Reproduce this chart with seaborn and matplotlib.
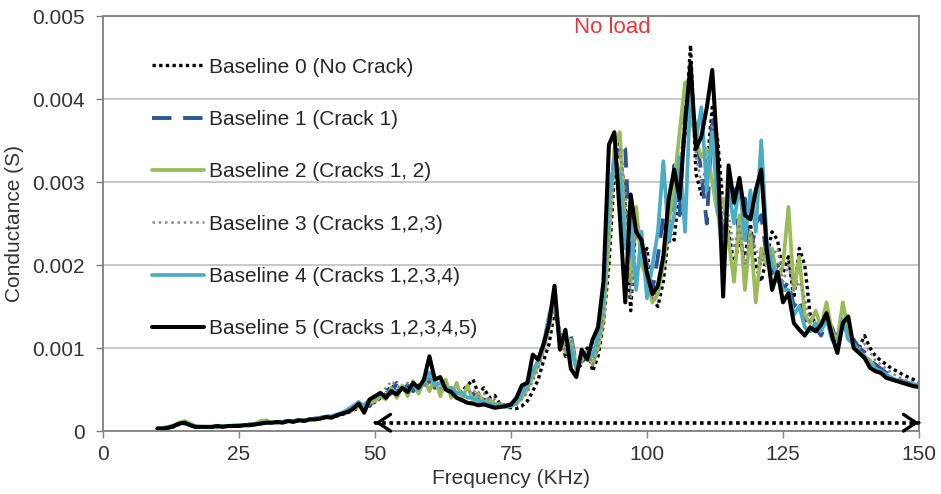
import numpy as np
import pandas as pd
import matplotlib
matplotlib.use('Agg')
import matplotlib.pyplot as plt
import seaborn as sns

# Frequency grid (kHz) and conductance readings (mS) for each baseline
freq = np.arange(10, 151)

baseline0 = [0.02, 0.03, 0.04, 0.05, 0.08, 0.09, 0.07, 0.05, 0.04, 0.05,
             0.05, 0.05, 0.06, 0.06, 0.06, 0.07, 0.07, 0.08, 0.08, 0.09,
             0.11, 0.10, 0.10, 0.11, 0.12, 0.12, 0.12, 0.13, 0.14, 0.15,
             0.15, 0.16, 0.17, 0.18, 0.20, 0.22, 0.25, 0.28, 0.30, 0.32,
             0.35, 0.40, 0.45, 0.55, 0.48, 0.52, 0.45, 0.55, 0.48, 0.56,
             0.70, 0.58, 0.52, 0.48, 0.50, 0.46, 0.48, 0.55, 0.62, 0.45,
             0.52, 0.40, 0.43, 0.32, 0.30, 0.28, 0.27, 0.30, 0.36, 0.48,
             0.62, 0.85, 1.05, 1.45, 1.20, 0.90, 1.10, 0.75, 0.80, 1.00,
             0.72, 0.90, 1.30, 2.00, 3.10, 3.50, 2.70, 1.45, 2.60, 2.10,
             2.20, 1.60, 1.50, 1.80, 2.40, 2.30, 3.00, 3.60, 4.65, 3.10,
             2.85, 3.20, 3.90, 3.50, 2.70, 2.40, 2.00, 2.30, 2.10, 2.50,
             2.00, 1.80, 2.10, 2.40, 2.30, 1.90, 2.10, 1.60, 2.20, 2.00,
             1.40, 1.30, 1.25, 1.35, 1.20, 1.15, 1.30, 1.20, 1.05, 1.00,
             1.15, 1.00, 0.90, 0.85, 0.80, 0.75, 0.72, 0.68, 0.65, 0.62,
             0.60]

baseline1 = [0.03, 0.03, 0.04, 0.06, 0.09, 0.11, 0.08, 0.05, 0.05, 0.05,
             0.05, 0.06, 0.06, 0.06, 0.06, 0.07, 0.07, 0.08, 0.08, 0.10,
             0.11, 0.10, 0.11, 0.11, 0.12, 0.12, 0.13, 0.13, 0.14, 0.15,
             0.16, 0.17, 0.18, 0.19, 0.22, 0.25, 0.30, 0.28, 0.35, 0.30,
             0.40, 0.38, 0.50, 0.45, 0.58, 0.50, 0.55, 0.48, 0.55, 0.50,
             0.62, 0.52, 0.55, 0.48, 0.52, 0.45, 0.48, 0.42, 0.45, 0.40,
             0.38, 0.35, 0.34, 0.32, 0.31, 0.32, 0.36, 0.45, 0.55, 0.70,
             0.85, 1.05, 1.35, 1.55, 1.10, 1.00, 1.15, 0.80, 0.85, 0.95,
             0.85, 1.10, 1.50, 2.60, 3.30, 3.45, 3.40, 2.00, 2.50, 2.30,
             2.00, 1.70, 2.10, 2.60, 2.20, 3.20, 2.60, 3.90, 4.10, 3.60,
             3.10, 2.50, 3.80, 3.00, 2.30, 2.70, 3.00, 2.30, 2.80, 2.10,
             2.50, 2.60, 2.10, 1.90, 2.00, 1.70, 1.80, 1.50, 1.60, 1.35,
             1.20, 1.25, 1.15, 1.30, 1.25, 1.05, 1.30, 1.15, 1.10, 1.00,
             0.95, 0.85, 0.80, 0.75, 0.70, 0.65, 0.62, 0.60, 0.58, 0.56,
             0.55]

baseline2 = [0.03, 0.04, 0.05, 0.07, 0.10, 0.12, 0.09, 0.06, 0.05, 0.05,
             0.05, 0.06, 0.06, 0.06, 0.07, 0.07, 0.07, 0.08, 0.09, 0.12,
             0.13, 0.10, 0.10, 0.11, 0.12, 0.12, 0.13, 0.13, 0.14, 0.15,
             0.15, 0.16, 0.17, 0.19, 0.21, 0.23, 0.26, 0.30, 0.28, 0.34,
             0.36, 0.42, 0.38, 0.52, 0.40, 0.55, 0.42, 0.60, 0.45, 0.62,
             0.48, 0.65, 0.42, 0.62, 0.40, 0.58, 0.38, 0.55, 0.36, 0.45,
             0.34, 0.38, 0.33, 0.32, 0.30, 0.30, 0.33, 0.40, 0.50, 0.65,
             0.80, 1.00, 1.25, 1.60, 1.15, 0.95, 1.10, 0.80, 0.85, 0.95,
             0.80, 1.00, 1.35, 2.30, 3.40, 3.60, 2.40, 1.80, 2.70, 2.00,
             1.85, 1.55, 1.65, 2.00, 2.50, 3.00, 3.60, 4.20, 3.80, 3.50,
             3.30, 3.40, 3.00, 2.60, 2.80, 2.30, 1.80, 2.60, 1.70, 2.40,
             1.55, 2.20, 2.00, 2.20, 1.80, 2.00, 2.70, 1.70, 2.10, 1.40,
             1.30, 1.45, 1.25, 1.55, 1.20, 1.10, 1.55, 1.20, 1.00, 0.95,
             0.90, 0.85, 0.75, 0.70, 0.65, 0.62, 0.60, 0.58, 0.56, 0.55,
             0.54]

baseline3 = [0.03, 0.03, 0.04, 0.06, 0.09, 0.11, 0.08, 0.05, 0.05, 0.05,
             0.05, 0.05, 0.06, 0.06, 0.06, 0.07, 0.07, 0.08, 0.08, 0.10,
             0.11, 0.10, 0.11, 0.11, 0.12, 0.12, 0.13, 0.13, 0.14, 0.15,
             0.15, 0.16, 0.17, 0.19, 0.21, 0.24, 0.27, 0.30, 0.33, 0.36,
             0.40, 0.45, 0.52, 0.60, 0.55, 0.50, 0.58, 0.50, 0.55, 0.52,
             0.65, 0.55, 0.52, 0.50, 0.48, 0.45, 0.44, 0.46, 0.50, 0.42,
             0.45, 0.38, 0.38, 0.33, 0.30, 0.30, 0.32, 0.38, 0.46, 0.60,
             0.75, 0.95, 1.20, 1.50, 1.15, 0.95, 1.10, 0.78, 0.82, 0.98,
             0.80, 1.00, 1.40, 2.40, 3.20, 3.40, 2.90, 1.60, 2.50, 2.20,
             2.10, 1.60, 1.70, 2.20, 2.50, 2.60, 3.20, 3.80, 4.40, 3.30,
             3.00, 3.10, 3.70, 3.20, 2.50, 2.60, 2.20, 2.50, 2.00, 2.40,
             2.20, 2.00, 2.30, 2.10, 2.20, 1.80, 2.00, 1.70, 1.80, 1.60,
             1.30, 1.30, 1.20, 1.40, 1.20, 1.10, 1.35, 1.20, 1.05, 1.00,
             1.05, 0.95, 0.85, 0.80, 0.75, 0.70, 0.66, 0.63, 0.60, 0.58,
             0.57]

baseline4 = [0.03, 0.03, 0.04, 0.06, 0.09, 0.10, 0.08, 0.05, 0.05, 0.05,
             0.05, 0.06, 0.06, 0.06, 0.06, 0.07, 0.07, 0.08, 0.08, 0.09,
             0.10, 0.10, 0.11, 0.11, 0.12, 0.12, 0.13, 0.13, 0.14, 0.15,
             0.16, 0.17, 0.18, 0.20, 0.22, 0.26, 0.30, 0.35, 0.30, 0.38,
             0.40, 0.45, 0.42, 0.50, 0.46, 0.52, 0.48, 0.55, 0.50, 0.58,
             0.70, 0.55, 0.58, 0.50, 0.52, 0.45, 0.46, 0.40, 0.40, 0.36,
             0.35, 0.33, 0.31, 0.30, 0.29, 0.30, 0.35, 0.45, 0.55, 0.72,
             0.85, 1.05, 1.40, 1.60, 1.05, 1.10, 1.00, 0.75, 0.90, 0.95,
             0.90, 1.15, 1.60, 2.80, 3.30, 3.10, 2.20, 2.60, 1.70, 2.40,
             1.60, 2.00, 2.40, 3.25, 2.30, 2.60, 3.30, 2.40, 4.15, 3.50,
             3.90, 2.90, 3.60, 2.70, 2.00, 2.90, 2.50, 3.00, 2.30, 2.90,
             2.40, 3.50, 2.30, 2.00, 1.90, 1.70, 1.70, 1.40, 1.50, 1.25,
             1.20, 1.30, 1.20, 1.35, 1.10, 1.00, 1.35, 1.10, 1.05, 0.95,
             0.90, 0.80, 0.75, 0.72, 0.68, 0.64, 0.61, 0.59, 0.57, 0.56,
             0.55]

baseline5 = [0.03, 0.03, 0.04, 0.06, 0.09, 0.10, 0.07, 0.05, 0.05, 0.05,
             0.05, 0.06, 0.05, 0.06, 0.06, 0.06, 0.07, 0.07, 0.08, 0.09,
             0.10, 0.10, 0.11, 0.10, 0.12, 0.11, 0.13, 0.12, 0.14, 0.14,
             0.15, 0.17, 0.16, 0.19, 0.21, 0.23, 0.27, 0.33, 0.22, 0.38,
             0.42, 0.46, 0.40, 0.48, 0.44, 0.52, 0.47, 0.58, 0.52, 0.62,
             0.90, 0.62, 0.65, 0.50, 0.47, 0.40, 0.37, 0.34, 0.33, 0.31,
             0.32, 0.30, 0.28, 0.29, 0.30, 0.32, 0.40, 0.55, 0.58, 0.92,
             0.86, 1.05, 1.30, 1.75, 0.98, 1.22, 0.75, 0.65, 0.98, 0.86,
             1.10, 1.25, 1.80, 3.45, 3.60, 2.60, 1.55, 2.85, 2.40, 2.30,
             1.90, 1.65, 1.75, 2.10, 2.80, 3.15, 2.80, 3.70, 4.43, 3.40,
             3.55, 3.90, 4.35, 3.30, 1.62, 3.20, 2.75, 3.05, 2.60, 2.55,
             2.90, 3.15, 2.20, 1.70, 1.92, 1.55, 1.66, 1.30, 1.22, 1.15,
             1.25, 1.20, 1.28, 1.42, 1.15, 0.94, 1.30, 1.38, 1.00, 0.94,
             0.88, 0.76, 0.72, 0.70, 0.64, 0.62, 0.60, 0.58, 0.56, 0.54,
             0.53]

labels = ['Baseline 0 (No Crack)', 'Baseline 1 (Crack 1)', 'Baseline 2 (Cracks 1, 2)',
          'Baseline 3 (Cracks 1,2,3)', 'Baseline 4 (Cracks 1,2,3,4)',
          'Baseline 5 (Cracks 1,2,3,4,5)']
x_ticks = [0, 25, 50, 75, 100, 125, 150]
y_ticks = [0, 0.001, 0.002, 0.003, 0.004, 0.005]
y_tick_labels = ['0', '0.001', '0.002', '0.003', '0.004', '0.005']
arrow_span = [50, 150]
arrow_level = 0.0001

sns.set_theme(style='white')
plt.rcParams['font.family'] = ['Liberation Sans', 'DejaVu Sans']

fig, ax = plt.subplots(figsize=(9.41, 4.94), dpi=100)
fig.subplots_adjust(left=0.1095, right=0.9766, bottom=0.1275, top=0.9676)

series = [baseline0, baseline1, baseline2, baseline3, baseline4, baseline5]
colors = ['black', '#2F5597', '#9BBB59', '#8a8296', '#4BACC6', 'black']
styles = [(0, (1, 1)), (0, (5, 3)), '-', (0, (1, 1.5)), '-', '-']
widths = [2.4, 2.8, 2.7, 1.8, 2.7, 2.9]

for vals, lab, c, ls, lw in zip(series, labels, colors, styles, widths):
    sns.lineplot(x=freq, y=np.array(vals) * 1e-3, ax=ax, color=c, linestyle=ls,
                 linewidth=lw, label=lab, legend=False)

# dotted double arrow marking the band
ax.plot(arrow_span, [arrow_level, arrow_level], color='black', lw=2.6, linestyle=(0, (1, 1)))
for end, back in [(arrow_span[1], arrow_span[1] - 0.1), (arrow_span[0], arrow_span[0] + 0.1)]:
    ax.annotate('', xy=(end, arrow_level), xytext=(back, arrow_level),
                arrowprops=dict(arrowstyle='->,head_length=0.45,head_width=0.3',
                                lw=2.4, color='black', shrinkA=0, shrinkB=0,
                                mutation_scale=20))

ax.text(93.6, 0.00486, 'No load', color='#e8383d', fontsize=16, ha='center', va='center')

ax.set_xlim(0, 150)
ax.set_ylim(0, 0.005)
ax.set_xticks(x_ticks)
ax.set_yticks(y_ticks)
ax.set_yticklabels(y_tick_labels)
ax.yaxis.grid(True, color='#c4c4c4', lw=1.3)
ax.xaxis.grid(False)
ax.set_axisbelow(True)
for sp in ax.spines.values():
    sp.set_color('#808080')
    sp.set_linewidth(1.3)
ax.tick_params(axis='both', bottom=True, left=True, direction='out', length=5,
               width=1, color='#808080', labelsize=15, labelcolor='#333333')
ax.tick_params(axis='y', pad=8)
ax.tick_params(axis='x', pad=5)
ax.set_xlabel('Frequency (KHz)', fontsize=15, color='#333333')
ax.set_ylabel('Conductance (S)', fontsize=15, color='#333333', labelpad=6)

ax.legend(loc='upper left', bbox_to_anchor=(0.06, 0.90), frameon=False, fontsize=15,
          handlelength=2.5, handletextpad=0.25, labelspacing=1.6, borderpad=0,
          borderaxespad=0)

fig.savefig('out.png', dpi=100)
